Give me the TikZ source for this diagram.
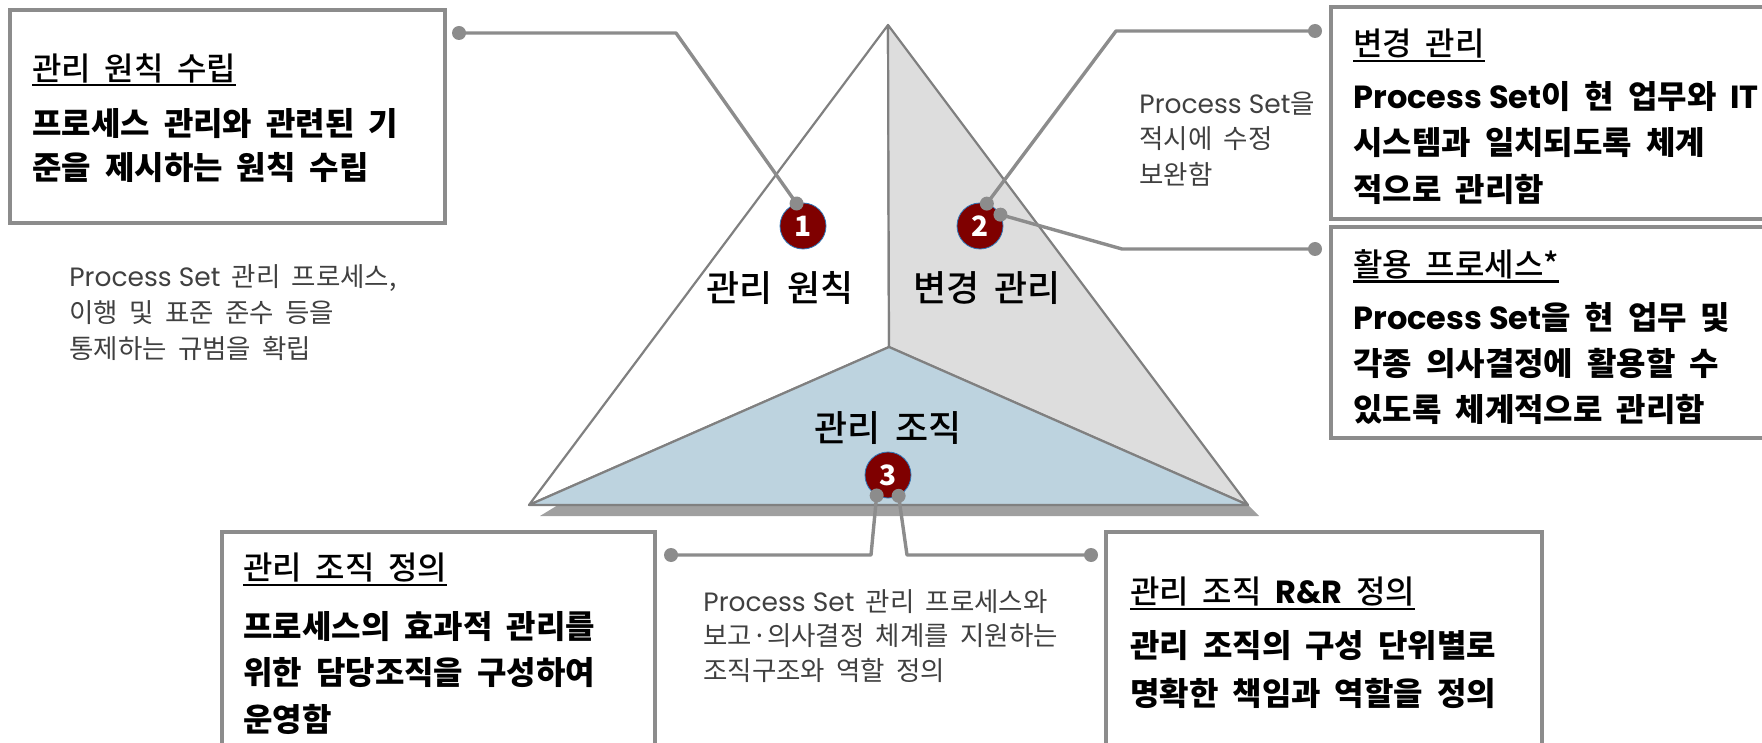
\documentclass[tikz,border=0pt]{standalone}
\usepackage{fontspec}
\setmainfont{Noto Sans CJK KR}[WordSpace=1.9]
\newfontfamily\latinfont{Poppins}
\IfFontExistsTF{Noto Sans CJK KR Medium}
    {\newfontfamily\midfont{Noto Sans CJK KR Medium}[WordSpace=1.9]}
    {\newfontfamily\midfont{Noto Sans CJK KR}[WordSpace=1.9, FakeBold=1.2]}

\definecolor{edgegray}{HTML}{808080}
\definecolor{linegray}{HTML}{8C8C8C}
\definecolor{facegray}{HTML}{DDDDDD}
\definecolor{faceblue}{HTML}{BDD3DF}
\definecolor{shadowgray}{HTML}{A0A0A0}
\definecolor{numred}{HTML}{7F0000}
\definecolor{numedge}{HTML}{2E75B6}
\definecolor{notegray}{HTML}{404040}

\newsavebox{\titlebox}
\newcommand{\pset}{{\latinfont Process Set}}
\newcommand{\ulined}[1]{\sbox{\titlebox}{#1}\smash{\rlap{\rule[-3.2pt]{\wd\titlebox}{1.2pt}}}\usebox{\titlebox}}

\tikzset{
    facelabel/.style={font=\fontsize{18}{21}\midfont},
    boxtitle/.style={anchor=west, inner sep=0pt, font=\fontsize{16}{19}\midfont},
    boxbody/.style={anchor=west, inner sep=0pt, font=\fontsize{16}{19}\selectfont\bfseries},
    note/.style={anchor=west, inner sep=0pt, text=notegray, font=\fontsize{13.25}{15}\selectfont},
    boxframe/.style={draw=linegray, line width=1.75pt},
    face/.style={draw=edgegray, line width=1.1pt, line join=round},
    numdot/.style={circle, fill=numred, draw=numedge, line width=0.4pt, minimum size=23pt,
        inner sep=0pt, text=white, font=\fontsize{14}{16}\selectfont\bfseries},
    link/.style={draw=linegray, line width=1.7pt, line join=round},
    linkdot/.style={circle, fill=linegray, minimum size=7pt, inner sep=0pt}
}

\begin{document}
\begin{tikzpicture}[x=0.5pt, y=-0.5pt]
    \useasboundingbox (0,0) rectangle (1762,743);
    \clip (0,0) rectangle (1762,743);

    % pyramid
    \coordinate (top) at (888,25);
    \coordinate (left) at (529,505);
    \coordinate (right) at (1248,505);
    \coordinate (mid) at (889,347);
    \fill[shadowgray] (540,516) -- (558,505) -- (right) -- (1259,516) -- cycle;
    \filldraw[face, fill=white] (top) -- (left) -- (mid) -- cycle;
    \filldraw[face, fill=facegray] (top) -- (mid) -- (right) -- cycle;
    \filldraw[face, fill=faceblue] (left) -- (mid) -- (right) -- cycle;

    \node[facelabel] (principle) at (780,288) {관리 원칙};
    \node[facelabel] (change) at (987,288) {변경 관리};
    \node[facelabel] (organization) at (888,428) {관리 조직};

    \node[numdot] (n1) at (803,226) {1};
    \node[numdot] (n2) at (980,226) {2};
    \node[numdot] (n3) at (888,475) {3};

    % connectors
    \coordinate (e1) at (459,33);
    \coordinate (e2a) at (1315,31);
    \coordinate (e2b) at (1315,249);
    \coordinate (e3a) at (671,555);
    \coordinate (e3b) at (1091,555);
    \draw[link] (e1) -- (676,33) -- (n1.106);
    \draw[link] (e2a) -- (1116,31) -- (n2.73);
    \draw[link] (e2b) -- (1122,249) -- (n2.29);
    \draw[link] (e3a) -- (871,555) -- (n3.241);
    \draw[link] (e3b) -- (907,555) -- (n3.297);
    \foreach \p in {e1, e2a, e2b, e3a, e3b, n1.106, n2.73, n2.29, n3.241, n3.297}
        \node[linkdot] at (\p) {};

    % boxes
    \draw[boxframe] (10,10) rectangle (445,223);
    \draw[boxframe] (1331,7) rectangle (1800,219);
    \draw[boxframe] (1331,227) rectangle (1800,438);
    \draw[boxframe] (222,532) rectangle (655,800);
    \draw[boxframe] (1106,532) rectangle (1542,800);

    \node[boxtitle] (title1) at (32,68) {\ulined{관리 원칙 수립}};
    \foreach \t [count=\i from 0] in {프로세스 관리와 관련된 기, 준을 제시하는 원칙 수립}
        \node[boxbody] (body1-\i) at (32,124+44*\i) {\t};

    \node[boxtitle] (title2) at (1353,44) {\ulined{변경 관리}};
    \foreach \t [count=\i from 0] in {{\pset 이 현 업무와 {\latinfont IT}}, 시스템과 일치되도록 체계, 적으로 관리함}
        \node[boxbody] (body2-\i) at (1353,97+46*\i) {\t};

    \node[boxtitle] (title3) at (1353,264) {\ulined{활용 프로세스*}};
    \foreach \t [count=\i from 0] in {{\pset 을 현 업무 및}, 각종 의사결정에 활용할 수, 있도록 체계적으로 관리함}
        \node[boxbody] (body3-\i) at (1353,317+46*\i) {\t};

    \node[boxtitle] (title4) at (243,568) {\ulined{관리 조직 정의}};
    \foreach \t [count=\i from 0] in {프로세스의 효과적 관리를, 위한 담당조직을 구성하여, 운영함}
        \node[boxbody] (body4-\i) at (243,627+46*\i) {\t};

    \node[boxtitle] (title5) at (1130,592) {\ulined{관리 조직 {\latinfont\bfseries R\&R} 정의}};
    \foreach \t [count=\i from 0] in {관리 조직의 구성 단위별로, 명확한 책임과 역할을 정의}
        \node[boxbody] (body5-\i) at (1130,646+47*\i) {\t};

    % notes
    \foreach \t [count=\i from 0] in {{\pset\ 관리 프로세스,}, 이행 및 표준 준수 등을, 통제하는 규범을 확립}
        \node[note] (note1-\i) at (69,278+35*\i) {\t};
    \foreach \t [count=\i from 0] in {{\pset 을}, 적시에 수정, 보완함}
        \node[note] (note2-\i) at (1139,104+35*\i) {\t};
    \foreach \t [count=\i from 0] in {{\pset\ 관리 프로세스와}, 보고·의사결정 체계를 지원하는, 조직구조와 역할 정의}
        \node[note] (note3-\i) at (703,602+34*\i) {\t};
\end{tikzpicture}
\end{document}
